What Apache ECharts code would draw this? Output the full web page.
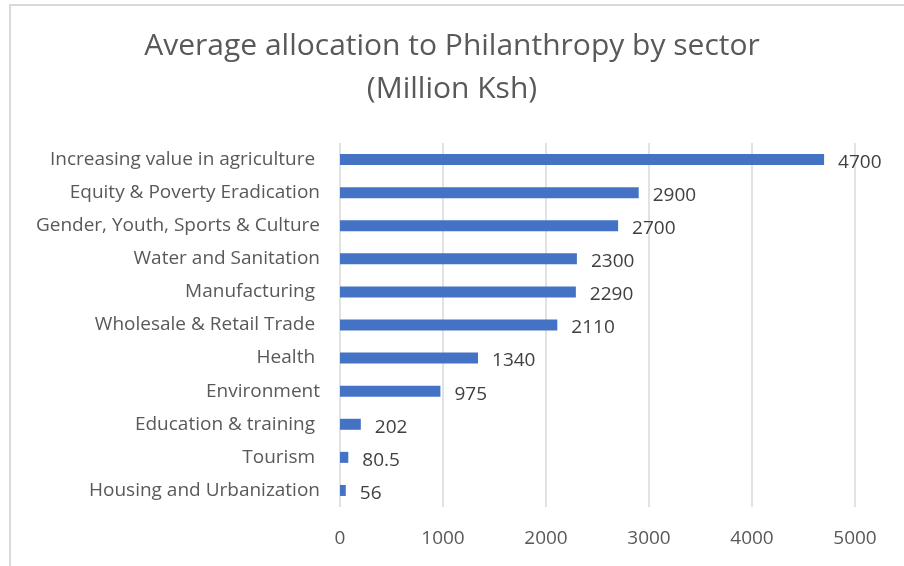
<!DOCTYPE html>
<html><head><meta charset="utf-8">
<script src="https://cdn.jsdelivr.net/npm/echarts@6/dist/echarts.min.js"></script>
<style>html,body{margin:0;padding:0;background:#fff}#c{width:904px;height:566px}</style>
</head><body><div id="c"></div>
<script>
const categories = ["Increasing value in agriculture ","Equity & Poverty Eradication","Gender, Youth, Sports & Culture","Water and Sanitation","Manufacturing ","Wholesale & Retail Trade ","Health ","Environment","Education & training ","Tourism ","Housing and Urbanization"];
const values = [4700,2900,2700,2300,2290,2110,1340,975,202,80.5,56];
const labels = ["4700","2900","2700","2300","2290","2110","1340","975","202","80.5","56"];
const xTicks = [0,1000,2000,3000,4000,5000];

const chart = echarts.init(document.getElementById('c'), null, {renderer:'canvas'});
const font = '"Open Sans", "Noto Sans", sans-serif';
chart.setOption({
  animation:false,
  backgroundColor:'#fff',
  graphic:[{type:'rect',shape:{x:10,y:5,width:1000,height:700},style:{fill:'none',stroke:'#d9d9d9',lineWidth:2},z:-1}],
  title:{text:'Average allocation to Philanthropy by sector\n(Million Ksh)',left:'center',top:20,
    textStyle:{fontFamily:font,fontWeight:'normal',fontSize:30,color:'#595959',lineHeight:43}},
  grid:{left:340,right:49,top:143,bottom:59,containLabel:false},
  xAxis:{type:'value',min:0,max:5000,interval:1000,
    axisLine:{show:false},axisTick:{show:false},
    axisLabel:{fontFamily:font,fontSize:19,color:'#595959',margin:22,formatter:v=>xTicks.includes(v)?String(v):''},
    splitLine:{lineStyle:{color:'#d9d9d9',width:1.5}}},
  yAxis:{type:'category',data:categories,inverse:true,
    axisLine:{show:false},axisTick:{show:false},
    axisLabel:{fontFamily:font,fontSize:19,color:'#595959',margin:20}},
  series:[{type:'bar',data:values,barWidth:11,itemStyle:{color:'#4472c4'},
    label:{show:true,position:'right',distance:14,offset:[0,3],fontFamily:font,fontSize:19,color:'#404040',
      formatter:p=>labels[p.dataIndex]}}]
});
</script></body></html>
